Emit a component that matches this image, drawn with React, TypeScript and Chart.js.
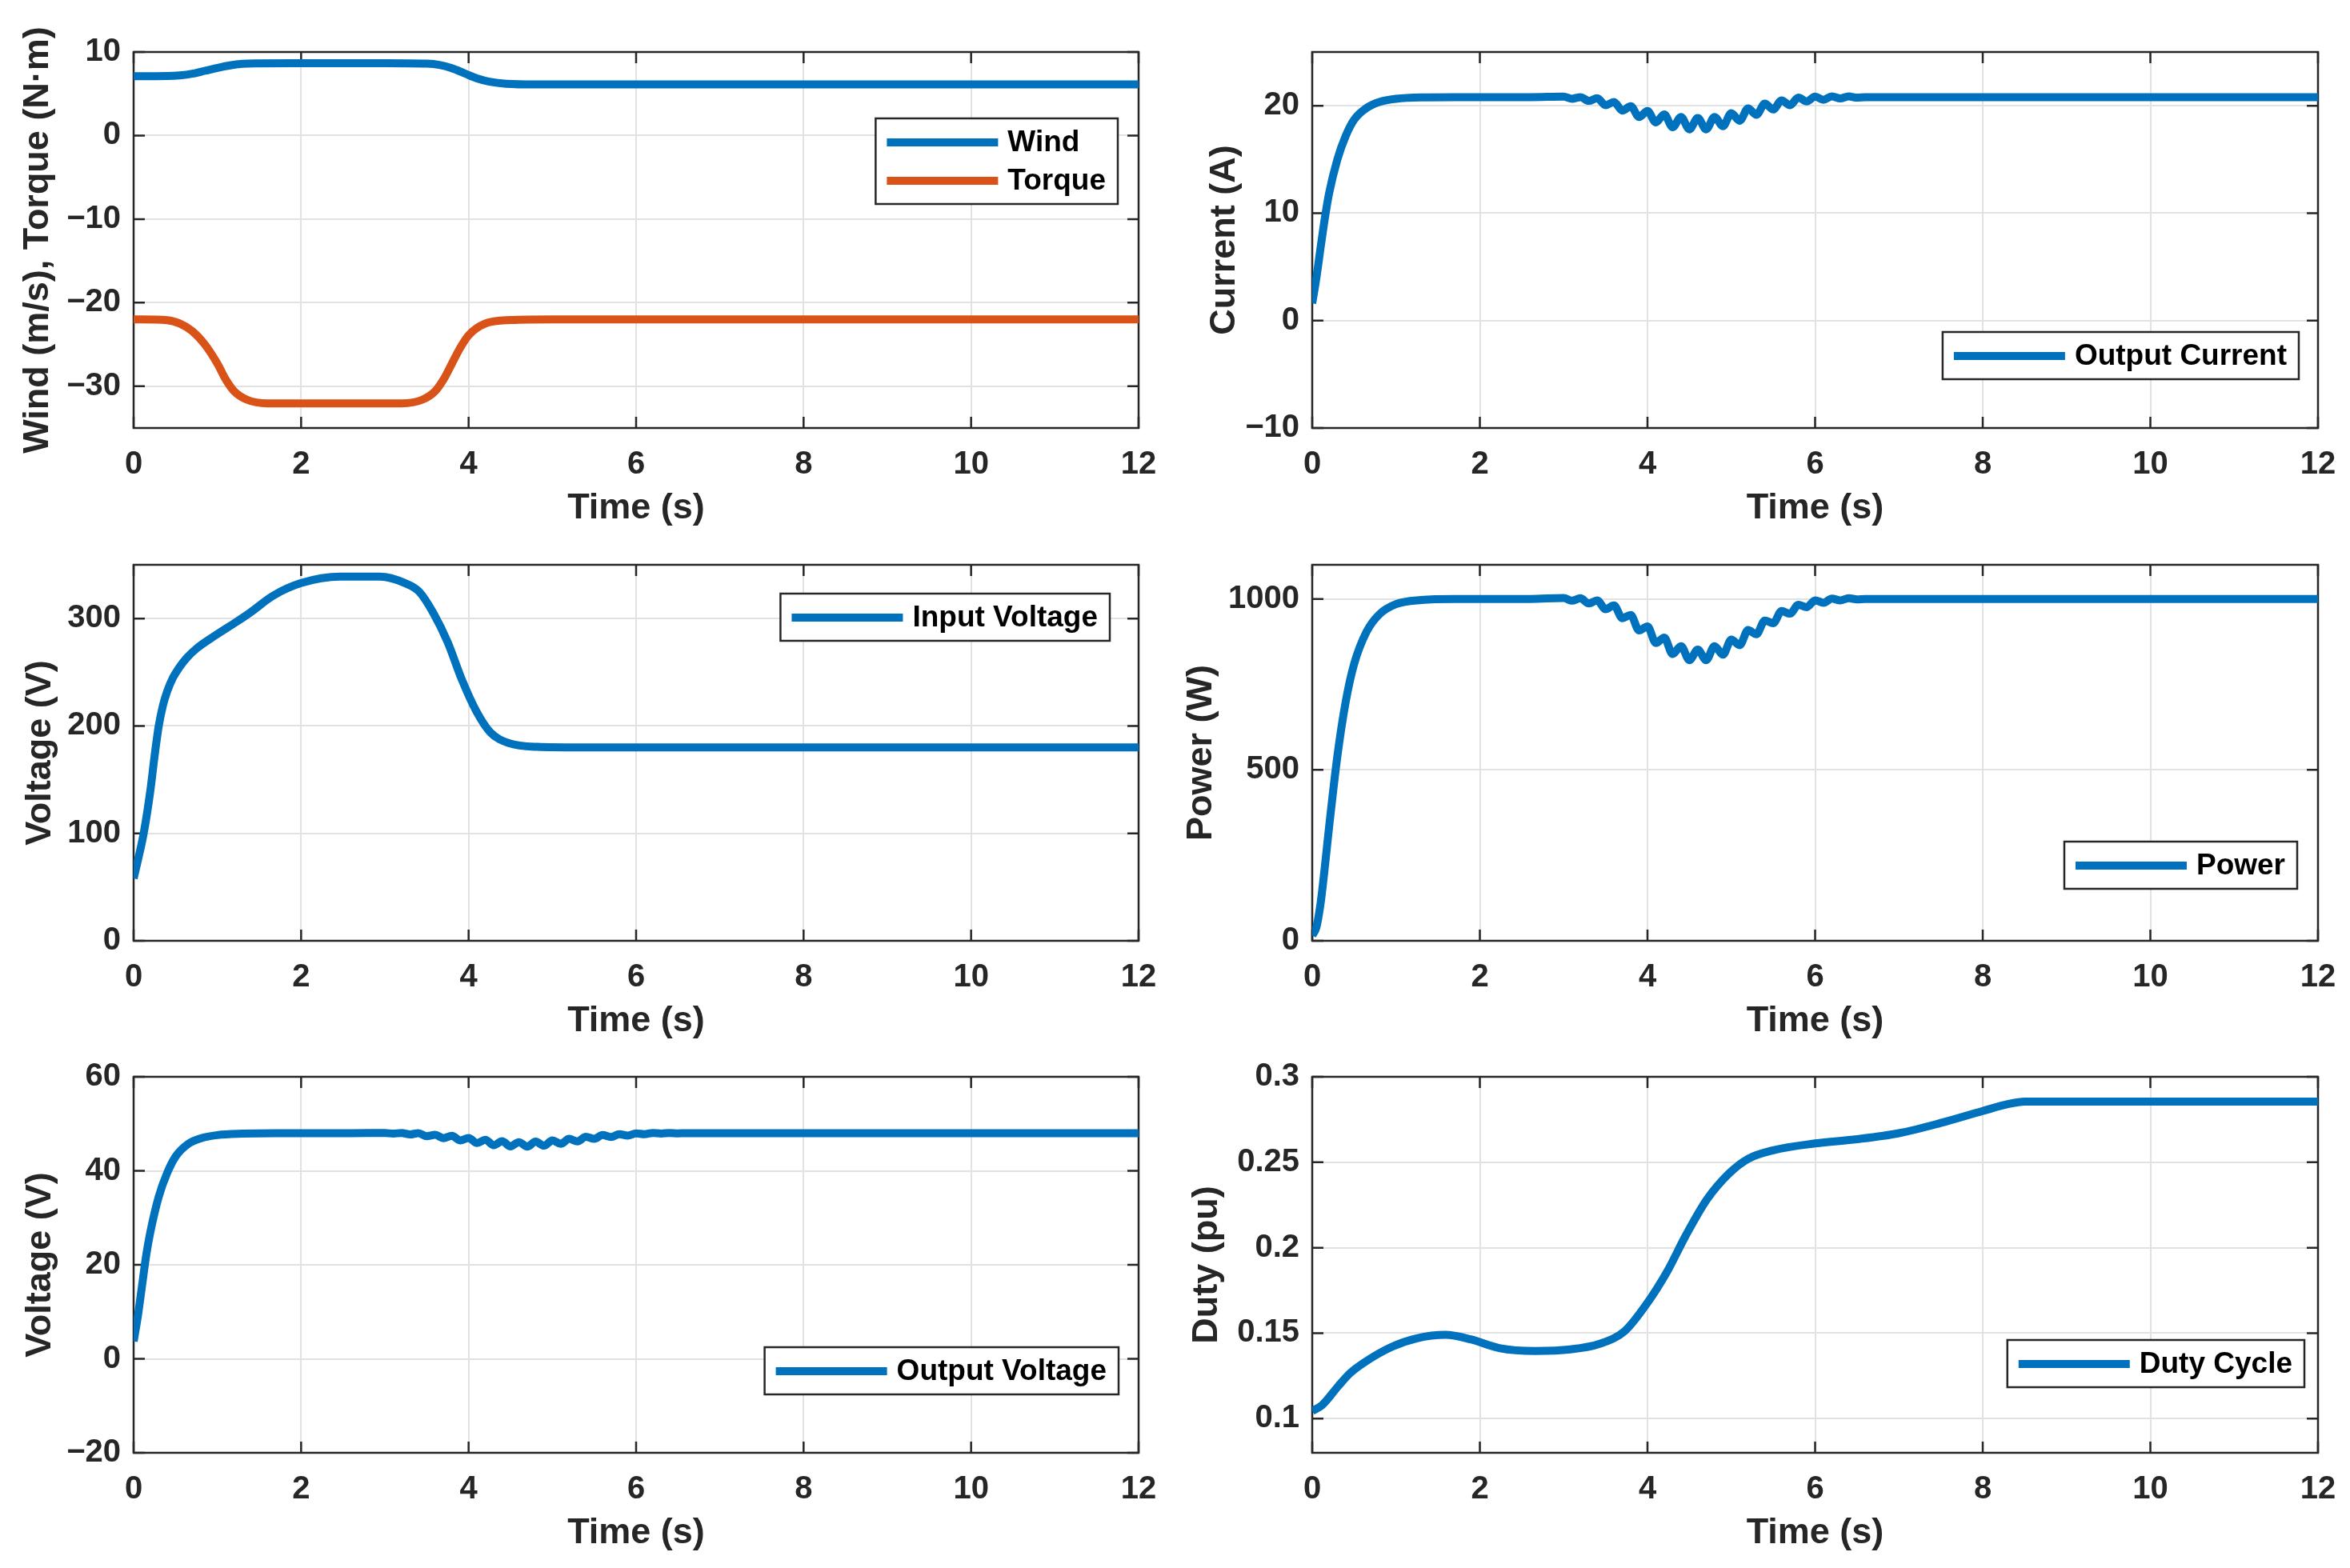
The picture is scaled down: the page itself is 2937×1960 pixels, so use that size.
import { useEffect, useRef } from "react";
import { Chart, registerables } from "chart.js";

Chart.register(...registerables);

const BLUE = "#0072BD";
const ORANGE = "#D95319";
const AXIS = "#262626";
const GRID = "#e2e2e2";
const FONT = 'Arial, "Liberation Sans", Helvetica, sans-serif';

// shared x axis
const timeTicks = [0, 2, 4, 6, 8, 10, 12];

// panel 1: wind speed and torque
const windT = [0, 0.4, 0.55, 0.7, 0.85, 1.0, 1.15, 1.3, 1.45, 2.0, 3.0, 3.5, 3.65, 3.8, 3.95, 4.1, 4.25, 4.45, 4.8, 12];
const windV = [7.1, 7.12, 7.2, 7.4, 7.75, 8.1, 8.4, 8.58, 8.63, 8.65, 8.65, 8.6, 8.45, 8.05, 7.45, 6.85, 6.45, 6.2, 6.12, 6.12];
const torqueT = [0, 0.4, 0.55, 0.7, 0.85, 1.0, 1.1, 1.2, 1.35, 1.6, 3.2, 3.45, 3.6, 3.7, 3.8, 3.9, 4.0, 4.2, 4.5, 5.0, 12];
const torqueV = [-22, -22.1, -22.5, -23.4, -25.0, -27.3, -29.2, -30.6, -31.6, -32.05, -32.05, -31.6, -30.6, -29.2, -27.3, -25.4, -23.9, -22.5, -22.08, -22, -22];
const windTicks = [-30, -20, -10, 0, 10];

// panel 2: output current
const curT = [0, 0.05, 0.1, 0.15, 0.2, 0.3, 0.4, 0.5, 0.65, 0.8, 1.0, 1.3, 1.7, 2.2, 2.6,
  3.0, 3.1, 3.2, 3.3, 3.4, 3.5, 3.6, 3.7, 3.8, 3.9, 4.0, 4.1, 4.2, 4.3, 4.4, 4.5, 4.6, 4.7, 4.8, 4.9,
  5.0, 5.1, 5.2, 5.3, 5.4, 5.5, 5.6, 5.7, 5.8, 5.9, 6.0, 6.1, 6.2, 6.3, 6.4, 6.5, 6.6, 7.0, 12];
const curV = [1.6, 4.0, 6.8, 9.5, 11.8, 15.0, 17.2, 18.7, 19.8, 20.35, 20.65, 20.78, 20.8, 20.8, 20.8,
  20.85, 20.65, 20.8, 20.45, 20.7, 20.05, 20.35, 19.55, 19.95, 18.95, 19.5, 18.45, 19.2, 18.0, 18.95, 17.8, 18.85, 17.8, 18.95, 18.1,
  19.3, 18.6, 19.75, 19.15, 20.2, 19.65, 20.5, 20.05, 20.75, 20.4, 20.85, 20.55, 20.87, 20.68, 20.87, 20.75, 20.8, 20.8, 20.8];
const curTicks = [-10, 0, 10, 20];

// panel 3: input voltage
const vinT = [0, 0.12, 0.2, 0.25, 0.3, 0.35, 0.4, 0.47, 0.55, 0.63, 0.75, 0.97, 1.23, 1.4, 1.66, 2.0, 2.47, 2.94, 3.24, 3.41, 3.58, 3.75, 3.92, 4.09, 4.26, 4.48, 4.82, 5.3, 12];
const vinV = [58, 100, 140, 172, 200, 219, 232, 245, 255, 263, 272, 284, 297, 306, 321, 333, 339, 339, 333, 325, 305, 278, 243, 214, 194, 184, 180.5, 180, 180];
const vinTicks = [0, 100, 200, 300];

// panel 4: power
const powT = curT;
const powV = [15, 40, 110, 215, 330, 540, 700, 810, 905, 955, 985, 997, 1000, 1000, 1000,
  1003, 995, 1002, 987, 996, 970, 981, 944, 953, 908, 920, 871, 887, 839, 862, 821, 852, 821, 862, 837,
  881, 865, 909, 897, 937, 929, 965, 957, 983, 976, 996, 989, 1001, 996, 1002, 999, 1000, 1000, 1000];
const powTicks = [0, 500, 1000];

// panel 5: output voltage
const voutT = curT;
const voutV = [3.7, 9, 15.5, 22, 27, 34.5, 39.5, 43, 45.7, 46.9, 47.6, 47.9, 48, 48, 48,
  48.05, 47.9, 48.05, 47.75, 48.0, 47.35, 47.65, 46.95, 47.45, 46.45, 47.0, 45.9, 46.6, 45.45, 46.3, 45.2, 46.1, 45.15, 46.2, 45.35,
  46.45, 45.75, 46.8, 46.25, 47.25, 46.8, 47.6, 47.2, 47.8, 47.5, 47.95, 47.78, 48.05, 47.93, 48.05, 47.97, 48, 48, 48];
const voutTicks = [-20, 0, 20, 40, 60];

// panel 6: duty cycle
const dutyT = [0, 0.12, 0.31, 0.45, 0.61, 0.95, 1.25, 1.59, 1.89, 2.23, 2.66, 3.08, 3.43, 3.73, 3.98, 4.24, 4.45, 4.71, 4.97, 5.2, 5.5, 6.0, 6.5, 7.0, 7.5, 8.0, 8.3, 8.5, 9.0, 12];
const dutyV = [0.1045, 0.108, 0.119, 0.1265, 0.1325, 0.142, 0.147, 0.149, 0.1464, 0.1413, 0.1396, 0.1405, 0.1438, 0.1513, 0.1664, 0.1865, 0.2065, 0.2283, 0.2433, 0.252, 0.257, 0.261, 0.2635, 0.267, 0.273, 0.28, 0.284, 0.2855, 0.2855, 0.2855];
const dutyTicks = [0.1, 0.15, 0.2, 0.25, 0.3];

type Series = { label: string; t: number[]; v: number[]; color: string };
type PanelCfg = {
  left: number;
  top: number;
  width: number;
  yWidth: number;
  padRight: number;
  yTitle: string;
  yTitlePad: number;
  yMin: number;
  yMax: number;
  yTicks: number[];
  series: Series[];
  legend: { gap: number; top: number };
};

const fmt = (v: number | string) => {
  const n = Number(v);
  return n < 0 ? "\u2212" + Math.abs(n) : String(n);
};

// MATLAB-like box with inward ticks, plus legend drawn inside the axes
const matlabAxes = {
  id: "matlabAxes",
  beforeDatasetsDraw(chart: any) {
    const { ctx, chartArea: a, scales } = chart;
    ctx.save();
    ctx.strokeStyle = AXIS;
    ctx.lineWidth = 2.5;
    ctx.beginPath();
    for (const tk of scales.x.ticks) {
      const px = scales.x.getPixelForValue(tk.value);
      ctx.moveTo(px, a.bottom);
      ctx.lineTo(px, a.bottom - 14);
      ctx.moveTo(px, a.top);
      ctx.lineTo(px, a.top + 14);
    }
    for (const tk of scales.y.ticks) {
      const py = scales.y.getPixelForValue(tk.value);
      ctx.moveTo(a.left, py);
      ctx.lineTo(a.left + 14, py);
      ctx.moveTo(a.right, py);
      ctx.lineTo(a.right - 14, py);
    }
    ctx.stroke();
    ctx.strokeRect(a.left, a.top, a.right - a.left, a.bottom - a.top);
    ctx.restore();
  },
  afterDatasetsDraw(chart: any, _args: any, opts: any) {
    const { ctx, chartArea: a } = chart;
    const sets = chart.data.datasets;
    ctx.save();
    ctx.font = `bold 37px ${FONT}`;
    let tw = 0;
    for (const ds of sets) tw = Math.max(tw, ctx.measureText(ds.label).width);
    const w = 14 + 139 + 12 + tw + 15;
    const h = 59 + 48 * (sets.length - 1);
    const x0 = a.right - opts.gap - w;
    const y0 = a.top + opts.top;
    ctx.fillStyle = "#fff";
    ctx.fillRect(x0, y0, w, h);
    ctx.strokeStyle = AXIS;
    ctx.lineWidth = 2.5;
    ctx.strokeRect(x0, y0, w, h);
    sets.forEach((ds: any, i: number) => {
      const y = y0 + 30 + i * 48;
      ctx.strokeStyle = ds.borderColor;
      ctx.lineWidth = 10;
      ctx.lineCap = "butt";
      ctx.beginPath();
      ctx.moveTo(x0 + 14, y);
      ctx.lineTo(x0 + 153, y);
      ctx.stroke();
      ctx.fillStyle = "#000";
      ctx.textBaseline = "middle";
      ctx.textAlign = "left";
      ctx.fillText(ds.label, x0 + 165, y + 1);
    });
    ctx.restore();
  },
};

const ROW_H = 640;

const panels: PanelCfg[] = [
  {
    left: 0, top: 35, width: 1460, yWidth: 167, padRight: 37,
    yTitle: "Wind (m/s), Torque (N\u00b7m)", yTitlePad: 21,
    yMin: -35, yMax: 10, yTicks: windTicks,
    series: [
      { label: "Wind", t: windT, v: windV, color: BLUE },
      { label: "Torque", t: torqueT, v: torqueV, color: ORANGE },
    ],
    legend: { gap: 26, top: 83 },
  },
  {
    left: 1470, top: 35, width: 1467, yWidth: 170, padRight: 40,
    yTitle: "Current (A)", yTitlePad: 34,
    yMin: -10, yMax: 25, yTicks: curTicks,
    series: [{ label: "Output Current", t: curT, v: curV, color: BLUE }],
    legend: { gap: 24, top: 350 },
  },
  {
    left: 0, top: 676, width: 1460, yWidth: 167, padRight: 37,
    yTitle: "Voltage (V)", yTitlePad: 24,
    yMin: 0, yMax: 350, yTicks: vinTicks,
    series: [{ label: "Input Voltage", t: vinT, v: vinV, color: BLUE }],
    legend: { gap: 36, top: 36 },
  },
  {
    left: 1470, top: 676, width: 1467, yWidth: 170, padRight: 40,
    yTitle: "Power (W)", yTitlePad: 5,
    yMin: 0, yMax: 1100, yTicks: powTicks,
    series: [{ label: "Power", t: powT, v: powV, color: BLUE }],
    legend: { gap: 26, top: 346 },
  },
  {
    left: 0, top: 1316, width: 1460, yWidth: 167, padRight: 37,
    yTitle: "Voltage (V)", yTitlePad: 24,
    yMin: -20, yMax: 60, yTicks: voutTicks,
    series: [{ label: "Output Voltage", t: voutT, v: voutV, color: BLUE }],
    legend: { gap: 25, top: 338 },
  },
  {
    left: 1470, top: 1316, width: 1467, yWidth: 170, padRight: 40,
    yTitle: "Duty (pu)", yTitlePad: 12,
    yMin: 0.08, yMax: 0.3, yTicks: dutyTicks,
    series: [{ label: "Duty Cycle", t: dutyT, v: dutyV, color: BLUE }],
    legend: { gap: 17, top: 329 },
  },
];

function Panel({ cfg }: { cfg: PanelCfg }) {
  const ref = useRef<HTMLCanvasElement | null>(null);

  useEffect(() => {
    if (!ref.current) return;
    const tickFont = { family: FONT, size: 40, weight: "bold" as const };
    const titleFont = { family: FONT, size: 45, weight: "bold" as const };

    const chart = new Chart(ref.current, {
      type: "line",
      data: {
        datasets: cfg.series.map((s) => ({
          label: s.label,
          data: s.t.map((x, i) => ({ x, y: s.v[i] })),
          borderColor: s.color,
          backgroundColor: s.color,
          borderWidth: 10,
          pointRadius: 0,
          fill: false,
          cubicInterpolationMode: "monotone" as const,
        })),
      },
      options: {
        responsive: false,
        animation: false,
        layout: { padding: { top: 30, left: 0, right: cfg.padRight, bottom: 0 } },
        plugins: {
          legend: { display: false },
          tooltip: { enabled: false },
          // @ts-ignore
          matlabAxes: cfg.legend,
        },
        scales: {
          x: {
            type: "linear",
            min: 0,
            max: 12,
            afterBuildTicks: (s: any) => {
              s.ticks = timeTicks.map((value) => ({ value }));
            },
            afterFit: (s: any) => {
              s.height = 140;
            },
            // invisible outer tick marks only reserve the label gap
            grid: { color: GRID, lineWidth: 2, drawTicks: true, tickLength: 22, tickColor: "rgba(0,0,0,0)" },
            border: { display: false },
            ticks: { font: tickFont, color: AXIS, padding: 0, maxRotation: 0, autoSkip: false, callback: fmt },
            title: { display: true, text: "Time (s)", font: titleFont, color: AXIS, padding: { top: 0, bottom: 12 } },
          },
          y: {
            type: "linear",
            min: cfg.yMin,
            max: cfg.yMax,
            afterBuildTicks: (s: any) => {
              s.ticks = cfg.yTicks.map((value) => ({ value }));
            },
            afterFit: (s: any) => {
              s.width = cfg.yWidth;
            },
            grid: { color: GRID, lineWidth: 2, drawTicks: true, tickLength: 16, tickColor: "rgba(0,0,0,0)" },
            border: { display: false },
            ticks: { font: tickFont, color: AXIS, padding: 0, autoSkip: false, callback: fmt },
            title: { display: true, text: cfg.yTitle, font: titleFont, color: AXIS, padding: { top: cfg.yTitlePad, bottom: 0 } },
          },
        },
      },
      plugins: [matlabAxes],
    });

    return () => {
      chart.destroy();
    };
  }, [cfg]);

  return (
    <canvas
      ref={ref}
      width={cfg.width}
      height={ROW_H}
      style={{ position: "absolute", left: cfg.left, top: cfg.top, width: cfg.width, height: ROW_H }}
    />
  );
}

export default function App() {
  return (
    <div style={{ position: "absolute", left: 0, top: 0, width: 2937, height: 1960, background: "#fff", overflow: "hidden" }}>
      {panels.map((p, i) => (
        <Panel key={i} cfg={p} />
      ))}
    </div>
  );
}
